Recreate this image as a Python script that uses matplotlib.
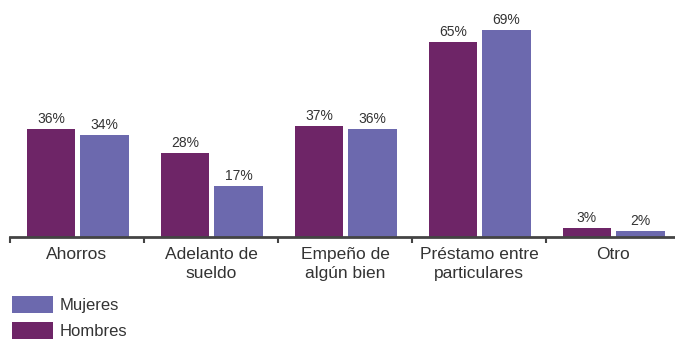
import matplotlib.pyplot as plt
import numpy as np

categorias = ["Ahorros", "Adelanto de\nsueldo", "Empeño de\nalgún bien",
              "Préstamo entre\nparticulares", "Otro"]
hombres = [36, 28, 37, 65, 3]
mujeres = [34, 17, 36, 69, 2]

color_hombres = "#6E2567"
color_mujeres = "#6C69AE"

plt.rcParams['font.family'] = ['Liberation Sans', 'DejaVu Sans']

fig = plt.figure(figsize=(6.75, 3.43), dpi=100)
ax = fig.add_axes([10 / 675, 106 / 343, 670 / 675, 225 / 343])

x = np.arange(len(categorias))
ancho = 0.36
b_h = ax.bar(x - 0.195, hombres, ancho, color=color_hombres, label="Hombres")
b_m = ax.bar(x + 0.205, mujeres, ancho, color=color_mujeres, label="Mujeres")

for barras, valores in ((b_h, hombres), (b_m, mujeres)):
    for b, v in zip(barras, valores):
        ax.text(b.get_x() + b.get_width() / 2, v + 1.0, f"{v}%",
                ha="center", va="bottom", fontsize=10, color="#333333")

ax.set_xlim(-0.5, 4.5)
ax.set_ylim(0, 75)

# ticks between categories, labels centered under each group
ax.set_xticks(np.arange(-0.5, 5.0, 1.0))
ax.set_xticklabels([])
ax.set_xticks(x, minor=True)
ax.set_xticklabels(categorias, minor=True, fontsize=12.5, color="#333333",
                   linespacing=1.35)
ax.tick_params(axis="x", which="major", direction="out", length=4,
               width=1.5, color="#444444")
ax.tick_params(axis="x", which="minor", length=0, pad=7)
ax.set_yticks([])

for lado in ("top", "right", "left"):
    ax.spines[lado].set_visible(False)
ax.spines["bottom"].set_color("#444444")
ax.spines["bottom"].set_linewidth(2)

fig.legend([b_m, b_h], ["Mujeres", "Hombres"], loc="upper left",
           bbox_to_anchor=(12 / 675, 1 - 296 / 343), frameon=False,
           fontsize=12, handlelength=2.45, handleheight=1.2,
           handletextpad=0.4, labelspacing=0.5, borderpad=0,
           borderaxespad=0, labelcolor="#333333")

fig.savefig("out.png", dpi=100)
